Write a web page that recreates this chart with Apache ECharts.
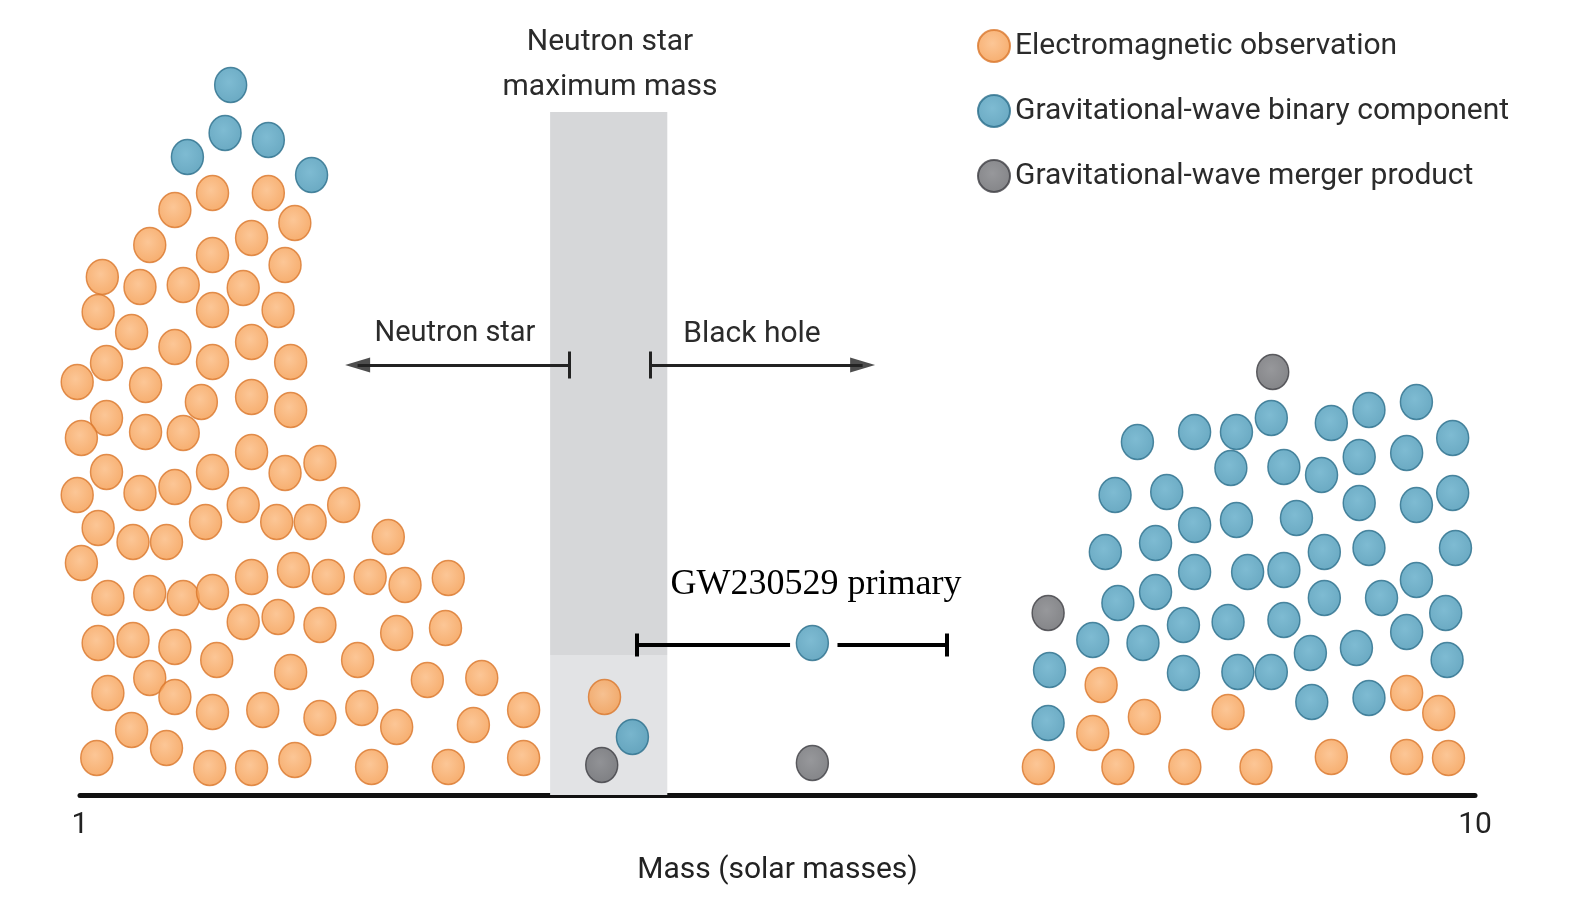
<!DOCTYPE html>
<html><head><meta charset="utf-8">
<script src="https://cdn.jsdelivr.net/npm/echarts@6/dist/echarts.min.js"></script>
<style>html,body{margin:0;padding:0;background:#fff}#c{width:1575px;height:900px}</style>
</head><body><div id="c"></div>
<script>
// Each dot: [log10(mass in solar masses), stack height (arbitrary units)]
const emObservation = [
 [0.095,60.2],[0.135,60.2],[0.068,58.5],[0.154,57.2],[0.123,55.7],[0.050,55.0],[0.095,54.0],[0.147,53.0],[0.016,51.8],[0.043,50.8],[0.074,51.0],[0.117,50.7],
 [0.013,48.3],[0.095,48.5],[0.142,48.5],[0.037,46.3],[0.068,44.8],[0.123,45.3],[0.095,43.3],[0.151,43.3],[0.019,43.2],[-0.002,41.3],[0.047,41.0],[0.087,39.3],[0.123,39.8],[0.151,38.5],[0.019,37.7],[0.001,35.7],[0.047,36.3],[0.074,36.2],[0.123,34.3],[0.019,32.3],[0.095,32.3],[0.147,32.2],[0.172,33.2],[-0.002,30.0],[0.043,30.2],[0.068,30.8],[0.117,29.0],[0.141,27.3],[0.165,27.3],[0.189,29.0],[0.090,27.3],[0.013,26.7],[0.038,25.3],[0.062,25.3],
 [0.001,23.2],[0.020,19.7],[0.050,20.2],[0.074,19.7],[0.095,20.3],[0.123,21.8],[0.153,22.5],[0.178,21.8],[0.117,17.3],[0.142,17.8],[0.172,17.0],[0.013,15.2],[0.038,15.5],[0.068,14.8],[0.098,13.5],[0.151,12.3],[0.199,13.5],[0.020,10.2],[0.050,11.7],[0.068,9.8],[0.095,8.3],[0.131,8.5],[0.172,7.7],[0.037,6.5],[0.062,4.7],[0.012,3.7],[0.093,2.7],[0.123,2.7],[0.154,3.5],
 [0.221,25.8],[0.208,21.8],[0.233,21.0],[0.264,21.7],[0.227,16.2],[0.262,16.7],[0.249,11.5],[0.288,11.7],[0.202,8.7],[0.227,6.8],[0.282,7.0],[0.318,8.5],[0.209,2.8],[0.264,2.8],[0.318,3.7],
 [0.376,9.8],
 [0.732,11.0],[0.763,7.8],[0.823,8.3],[0.726,6.2],[0.687,2.8],[0.744,2.8],[0.792,2.8],[0.843,2.8],[0.897,3.8],[0.951,10.2],[0.974,8.2],[0.951,3.8],[0.981,3.7]
];
const gwBinaryComponent = [
 [0.108,71.0],[0.104,66.2],[0.135,65.5],[0.077,63.8],[0.166,62.0],
 [0.396,5.8],[0.525,15.2],
 [0.758,35.3],[0.799,36.3],[0.829,36.3],[0.825,32.7],[0.742,30.0],[0.779,30.3],[0.799,27.0],[0.735,24.3],[0.771,25.2],[0.799,22.3],[0.744,19.2],[0.771,20.3],[0.726,15.5],[0.762,15.2],[0.791,17.0],[0.823,17.3],[0.695,12.5],[0.791,12.2],[0.694,7.2],
 [0.854,37.7],[0.897,37.2],[0.924,38.5],[0.958,39.3],[0.984,35.7],[0.863,32.8],[0.890,32.0],[0.917,33.8],[0.951,34.2],[0.829,27.5],[0.872,27.7],[0.917,29.2],[0.958,29.0],[0.984,30.2],[0.837,22.3],[0.863,22.5],[0.892,24.3],[0.924,24.7],[0.986,24.7],[0.863,17.5],[0.892,19.7],[0.933,19.7],[0.958,21.5],[0.979,18.2],[0.830,12.3],[0.854,12.3],[0.882,14.2],[0.915,14.7],[0.951,16.3],[0.980,13.5],[0.883,9.3],[0.924,9.7]
];
const gwMergerProduct = [[0.374,3.0],[0.525,3.2],[0.855,42.3],[0.694,18.2]];

// Neutron star maximum mass band (log10 mass) and its heights
const nsMaxBand = [0.337, 0.421];
const bandHeights = [68.3, 14.0, 0];
// GW230529 primary error bar: [low, gapStart, gapEnd, high] in log10 mass, at height
const gwPrimaryBar = [0.399, 0.509, 0.543, 0.621];
const gwPrimaryHeight = 15.0;
// Arrows: [cap, tip] in log10 mass, at arrowHeight
const nsArrow = [0.351, 0.190];
const bhArrow = [0.409, 0.570];
const arrowHeight = 43.0;
const xTicks = [1, 10];

const M = v => Math.pow(10, v);
const toPts = arr => arr.map(p => [M(p[0]), p[1]]);
const ell = 'path://M50,0A50,50 0 1,1 50,100A50,50 0 1,1 50,0Z';
const grad = (c0, c1) => ({type:'radial', x:0.45, y:0.42, r:0.6, colorStops:[{offset:0,color:c0},{offset:1,color:c1}]});
const FONT = 'Roboto, "Noto Sans", sans-serif';

const seg = (x1,y1,x2,y2) => [{coord:[x1,y1]},{coord:[x2,y2]}];
const capH = 1.15;
const annotLines = [
  seg(M(gwPrimaryBar[0]),gwPrimaryHeight,M(gwPrimaryBar[1]),gwPrimaryHeight),
  seg(M(gwPrimaryBar[2]),gwPrimaryHeight,M(gwPrimaryBar[3]),gwPrimaryHeight),
  seg(M(gwPrimaryBar[0]),gwPrimaryHeight+capH,M(gwPrimaryBar[0]),gwPrimaryHeight-capH),
  seg(M(gwPrimaryBar[3]),gwPrimaryHeight+capH,M(gwPrimaryBar[3]),gwPrimaryHeight-capH)
];
const arrowLines = [
  seg(M(nsArrow[0]),arrowHeight,M(nsArrow[1]+0.009),arrowHeight),
  seg(M(bhArrow[0]),arrowHeight,M(bhArrow[1]-0.009),arrowHeight),
  seg(M(nsArrow[0]),arrowHeight+1.35,M(nsArrow[0]),arrowHeight-1.35),
  seg(M(bhArrow[0]),arrowHeight+1.35,M(bhArrow[0]),arrowHeight-1.35)
];

const chart = echarts.init(document.getElementById('c'));
chart.setOption({
  animation:false,
  backgroundColor:'#fff',
  grid:{left:80,right:100,top:0,bottom:105,containLabel:false},
  xAxis:{type:'log',logBase:10,min:xTicks[0],max:xTicks[1],
    axisLine:{show:true,lineStyle:{color:'#111',width:5}},
    axisTick:{show:false},splitLine:{show:false},minorTick:{show:false},
    axisLabel:{fontSize:30,color:'#222',fontFamily:FONT,margin:15,
      formatter:v=>String(Math.round(v)),
      rich:{}},
    name:'Mass (solar masses)',nameLocation:'middle',nameGap:60,
    nameTextStyle:{fontSize:30,color:'#222',fontFamily:FONT}},
  yAxis:{type:'value',min:0,max:79.5,show:false},
  legend:{orient:'vertical',left:972,top:24,itemWidth:32,itemHeight:35,itemGap:31,selectedMode:false,
    textStyle:{fontSize:30,color:'#2b2b2b',fontFamily:FONT},
    data:['Electromagnetic observation','Gravitational-wave binary component','Gravitational-wave merger product']},
  graphic:[
    {type:'text',x:610,y:65,style:{text:'Neutron star\nmaximum mass',font:'30px '+FONT,fill:'#2b2b2b',textAlign:'center',textVerticalAlign:'middle',lineHeight:45}},
    {type:'text',x:455,y:334,style:{text:'Neutron star',font:'29px '+FONT,fill:'#2b2b2b',textAlign:'center',textVerticalAlign:'middle'}},
    {type:'text',x:752,y:334,style:{text:'Black hole',font:'30px '+FONT,fill:'#2b2b2b',textAlign:'center',textVerticalAlign:'middle'}},
    {type:'text',x:816,y:585,style:{text:'GW230529 primary',font:'36px "Liberation Serif", "DejaVu Serif", serif',fill:'#000',textAlign:'center',textVerticalAlign:'middle'}}
  ],
  series:[
    {type:'scatter',name:'band',data:[],z:1,silent:true,
      markArea:{silent:true,data:[
        [{xAxis:M(nsMaxBand[0]),yAxis:bandHeights[0],itemStyle:{color:'#d6d7d9'}},{xAxis:M(nsMaxBand[1]),yAxis:bandHeights[1]}],
        [{xAxis:M(nsMaxBand[0]),yAxis:bandHeights[1],itemStyle:{color:'#e2e3e5'}},{xAxis:M(nsMaxBand[1]),yAxis:bandHeights[2]}]
      ]},
      markLine:{silent:true,symbol:['none','none'],label:{show:false},animation:false,
        lineStyle:{color:'#000',width:4,type:'solid'},data:annotLines}},
    {type:'scatter',name:'arrows',z:2,silent:true,clip:false,
      data:[
        {value:[M(nsArrow[1]+0.009),arrowHeight],symbol:'path://M24,0L0,7L24,14Z'},
        {value:[M(bhArrow[1]-0.009),arrowHeight],symbol:'path://M0,0L24,7L0,14Z'}
      ],
      symbolSize:[25,15],itemStyle:{color:'#222'},
      markLine:{silent:true,symbol:['none','none'],label:{show:false},animation:false,
        lineStyle:{color:'#222',width:3,type:'solid'},data:arrowLines}},
    {type:'scatter',name:'Electromagnetic observation',z:3,clip:false,symbol:ell,symbolSize:[32,35],
      data:toPts(emObservation),
      itemStyle:{color:grad('#fbb87c','#f4994a'),borderColor:'#d9772c',borderWidth:1.5}},
    {type:'scatter',name:'Gravitational-wave binary component',z:3,clip:false,symbol:ell,symbolSize:[32,35],
      data:toPts(gwBinaryComponent),
      itemStyle:{color:grad('#5eaac7','#4594b3'),borderColor:'#2b6e8b',borderWidth:1.5}},
    {type:'scatter',name:'Gravitational-wave merger product',z:3,clip:false,symbol:ell,symbolSize:[32,35],
      data:toPts(gwMergerProduct),
      itemStyle:{color:grad('#7d7e82','#65666a'),borderColor:'#3e3f43',borderWidth:1.5}}
  ]
});
</script></body></html>
